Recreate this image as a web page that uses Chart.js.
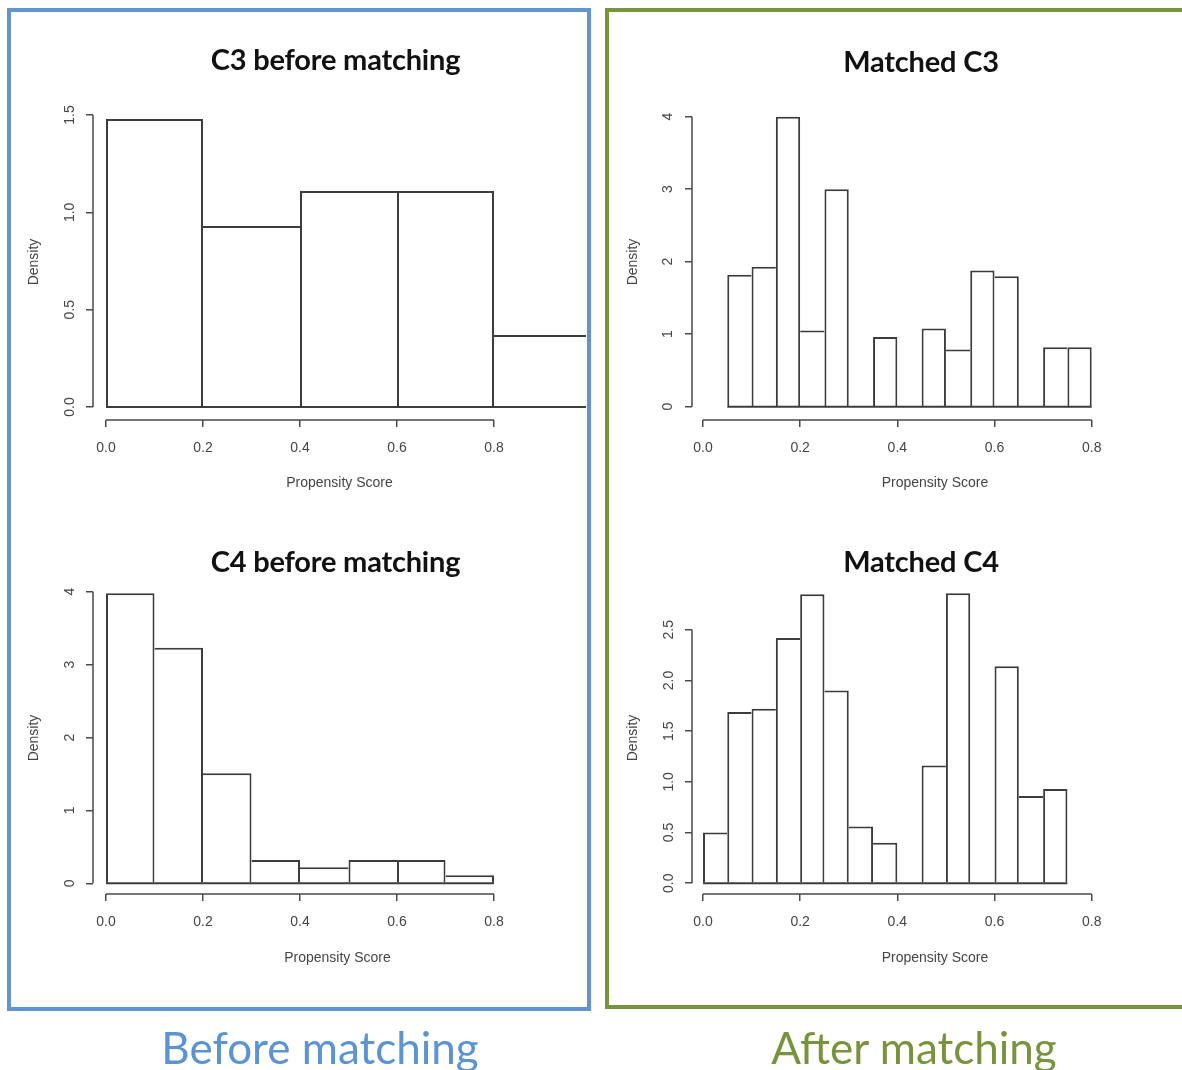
<!DOCTYPE html>
<html>
<head>
<meta charset="utf-8">
<script src="https://cdn.jsdelivr.net/npm/chart.js@4.4.1/dist/chart.umd.min.js"></script>
<style>
  html, body { margin:0; padding:0; background:#fff; }
  #page { position:relative; width:1182px; height:1070px; overflow:hidden; background:#fff; }
  canvas.hist { position:absolute; left:0; top:0; }
  .box { position:absolute; box-sizing:border-box; pointer-events:none; }
  .blue { left:7px; top:8px; width:584px; height:1003px; border:4px solid #6394cf; }
  .green { left:605px; top:8px; width:700px; height:1001px; border:4px solid #77943d; }
  .ptitle { position:absolute; font-family:Lato, "Open Sans", sans-serif; font-weight:700; font-size:29px; line-height:1;
            transform:translateX(-50%); white-space:nowrap; color:#111; letter-spacing:-0.2px; }
  .group { position:absolute; font-family:Lato, "Open Sans", sans-serif; font-weight:400; font-size:44px; line-height:1;
           transform:translateX(-50%); white-space:nowrap; }
</style>
</head>
<body>
<div id="page">
  <canvas id="c3before" class="hist" width="1182" height="1070"></canvas>
  <canvas id="c3matched" class="hist" width="1182" height="1070"></canvas>
  <canvas id="c4before" class="hist" width="1182" height="1070"></canvas>
  <canvas id="c4matched" class="hist" width="1182" height="1070"></canvas>

  <div class="box blue"></div>
  <div class="box green"></div>

  <div class="ptitle" id="t1" style="left:335.5px; top:44px;"></div>
  <div class="ptitle" id="t2" style="left:921px; top:46px;"></div>
  <div class="ptitle" id="t3" style="left:335.5px; top:546px;"></div>
  <div class="ptitle" id="t4" style="left:921px; top:546px;"></div>

  <div class="group" id="g1" style="left:320px; top:1025px; color:#5b93d3;"></div>
  <div class="group" id="g2" style="left:914px; top:1025px; color:#77943d;"></div>
</div>
<script>
// ---------------- data ----------------
const panelTitles = ["C3 before matching", "Matched C3", "C4 before matching", "Matched C4"];
const groupLabels = ["Before matching", "After matching"];
const xAxisTitle = "Propensity Score";
const yAxisTitle = "Density";

const xTickValues = [0.0, 0.2, 0.4, 0.6, 0.8];

const c3BeforeEdges   = [0.0, 0.2, 0.4, 0.6, 0.8, 1.0];
const c3BeforeDensity = [1.48, 0.93, 1.11, 1.11, 0.37];
const c3BeforeYTicks  = [0.0, 0.5, 1.0, 1.5];

const matchedC3Edges   = [0.05, 0.10, 0.15, 0.20, 0.25, 0.30, 0.35, 0.40, 0.45, 0.50, 0.55, 0.60, 0.65, 0.70, 0.75, 0.80];
const matchedC3Density = [1.82, 1.93, 4.00, 1.05, 3.00, 0, 0.96, 0, 1.08, 0.79, 1.88, 1.80, 0, 0.82, 0.82];
const matchedC3YTicks  = [0, 1, 2, 3, 4];

const c4BeforeEdges   = [0.0, 0.1, 0.2, 0.3, 0.4, 0.5, 0.6, 0.7, 0.8];
const c4BeforeDensity = [3.98, 3.23, 1.51, 0.32, 0.22, 0.32, 0.32, 0.11];
const c4BeforeYTicks  = [0, 1, 2, 3, 4];

const matchedC4Edges   = [0.00, 0.05, 0.10, 0.15, 0.20, 0.25, 0.30, 0.35, 0.40, 0.45, 0.50, 0.55, 0.60, 0.65, 0.70, 0.75];
const matchedC4Density = [0.50, 1.69, 1.72, 2.42, 2.85, 1.90, 0.56, 0.40, 0, 1.16, 2.86, 0, 2.14, 0.86, 0.93];
const matchedC4YTicks  = [0.0, 0.5, 1.0, 1.5, 2.0, 2.5];

// ---------------- text ----------------
["t1","t2","t3","t4"].forEach((id, i) => document.getElementById(id).textContent = panelTitles[i]);
document.getElementById("g1").textContent = groupLabels[0];
document.getElementById("g2").textContent = groupLabels[1];

// ---------------- styling ----------------
const PAGE_W = 1182, PAGE_H = 1070;
const INK = "#3c3c3c", AXIS = "#4a4a4a", TICK = "#454545";
const BAR_W = 2, AXIS_W = 1.5, WY = 71;
Chart.defaults.font.family = '"Liberation Sans", Arial, Helvetica, sans-serif';

const rAxes = {
  id: "rAxes",
  afterDraw(chart) {
    const { ctx, chartArea: a, scales: { x, y } } = chart;
    const xt = x.ticks, yt = y.ticks;
    ctx.save();
    ctx.strokeStyle = AXIS;
    ctx.lineWidth = AXIS_W;
    ctx.beginPath();
    ctx.moveTo(a.left, y.getPixelForValue(yt[0].value));
    ctx.lineTo(a.left, y.getPixelForValue(yt[yt.length - 1].value));
    ctx.moveTo(x.getPixelForValue(xt[0].value), a.bottom);
    ctx.lineTo(x.getPixelForValue(xt[xt.length - 1].value), a.bottom);
    ctx.stroke();
    ctx.restore();
  }
};

function makeHist(canvasId, spec) {
  const { edges, density, yTicks, yDecimals, area, range, hx, yPad } = spec;
  const points = density.map((d, i) => ({ x: (edges[i] + edges[i + 1]) / 2, y: d }));
  const last = density.length - 1;
  const borderFn = (c) => {
    const i = c.dataIndex;
    const h = density[i];
    const prev = i > 0 ? density[i - 1] : -1;
    const next = i < last ? density[i + 1] : -1;
    return { top: BAR_W, bottom: 0, left: h >= prev ? BAR_W : 0, right: h > next ? BAR_W : 0 };
  };
  return new Chart(document.getElementById(canvasId), {
    type: "bar",
    data: {
      datasets: [
        { type: "bar", data: points, backgroundColor: "#ffffff", borderColor: INK, borderWidth: borderFn,
          borderSkipped: false, barPercentage: 1, categoryPercentage: 1, inflateAmount: 0, order: 2 },
        { type: "line", data: [{ x: edges[0], y: 0 }, { x: edges[edges.length - 1], y: 0 }],
          borderColor: INK, borderWidth: BAR_W, pointRadius: 0, fill: false, order: 1 }
      ]
    },
    options: {
      responsive: false, animation: false, events: [],
      layout: { padding: { left: area.left - WY, top: area.top, right: PAGE_W - area.right, bottom: PAGE_H - area.bottom - hx } },
      plugins: { legend: { display: false }, tooltip: { enabled: false } },
      scales: {
        x: {
          type: "linear", min: range.xmin, max: range.xmax, offset: false,
          afterFit: (s) => { s.height = hx; },
          afterBuildTicks: (s) => { s.ticks = xTickValues.map(v => ({ value: v })); },
          grid: { drawOnChartArea: false, drawTicks: true, tickLength: 7, color: AXIS, lineWidth: AXIS_W, offset: false },
          border: { display: false },
          ticks: { autoSkip: false, minRotation: 0, maxRotation: 0, padding: 13, color: TICK, font: { size: 14 },
                   callback: (v) => Number(v).toFixed(1) },
          title: { display: true, text: xAxisTitle, color: TICK, font: { size: 14 }, padding: { top: 4, bottom: 4 } }
        },
        y: {
          type: "linear", min: range.ymin, max: range.ymax,
          afterFit: (s) => { s.width = WY; },
          afterBuildTicks: (s) => { s.ticks = yTicks.map(v => ({ value: v })); },
          grid: { drawOnChartArea: false, drawTicks: true, tickLength: 7, color: AXIS, lineWidth: AXIS_W },
          border: { display: false },
          ticks: { autoSkip: false, minRotation: 90, maxRotation: 90, crossAlign: "center", padding: yPad,
                   color: TICK, font: { size: 14 }, callback: (v) => Number(v).toFixed(yDecimals) },
          title: { display: true, text: yAxisTitle, color: TICK, font: { size: 14 }, padding: { top: 4, bottom: 4 } }
        }
      }
    },
    plugins: [rAxes]
  });
}

makeHist("c3before", {
  edges: c3BeforeEdges, density: c3BeforeDensity, yTicks: c3BeforeYTicks, yDecimals: 1,
  area: { left: 93, top: 104, right: 586, bottom: 420 },
  range: { xmin: -0.0268, xmax: 0.9897, ymin: -0.0668, ymax: 1.5565 }, hx: 76, yPad: 6
});
makeHist("c3matched", {
  edges: matchedC3Edges, density: matchedC3Density, yTicks: matchedC3YTicks, yDecimals: 0,
  area: { left: 692, top: 104, right: 1178, bottom: 420 },
  range: { xmin: -0.0226, xmax: 0.9776, ymin: -0.1834, ymax: 4.175 }, hx: 76, yPad: 13
});
makeHist("c4before", {
  edges: c4BeforeEdges, density: c4BeforeDensity, yTicks: c4BeforeYTicks, yDecimals: 0,
  area: { left: 93, top: 582, right: 582, bottom: 894 },
  range: { xmin: -0.0268, xmax: 0.9814, ymin: -0.1468, ymax: 4.133 }, hx: 77, yPad: 12
});
makeHist("c4matched", {
  edges: matchedC4Edges, density: matchedC4Density, yTicks: matchedC4YTicks, yDecimals: 1,
  area: { left: 692, top: 582, right: 1178, bottom: 894 },
  range: { xmin: -0.0226, xmax: 0.9776, ymin: -0.1066, ymax: 2.9716 }, hx: 77, yPad: 6
});
</script>
</body>
</html>
